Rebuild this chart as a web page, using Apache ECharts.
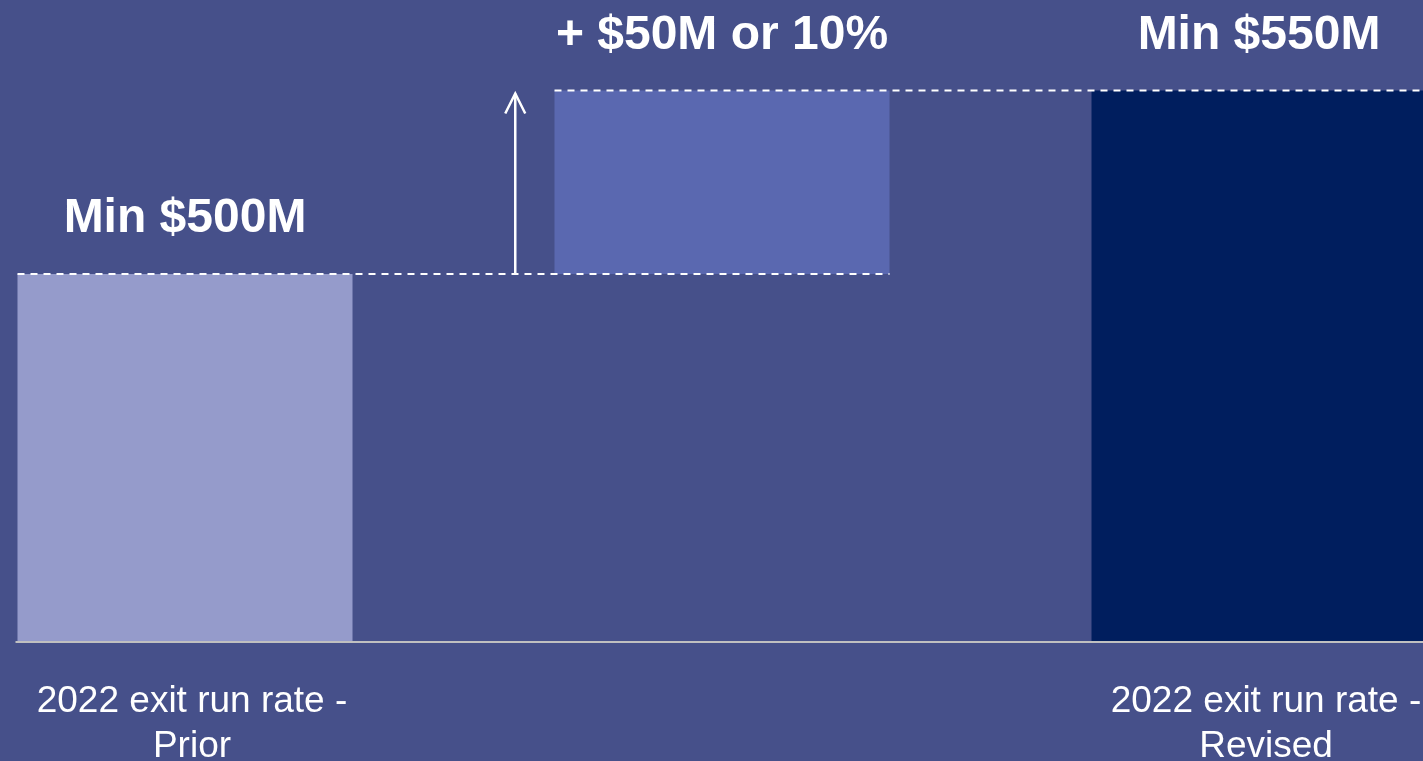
<!DOCTYPE html>
<html>
<head>
<meta charset="utf-8">
<script src="https://cdn.jsdelivr.net/npm/echarts@6/dist/echarts.min.js"></script>
<style>
  html, body { margin: 0; padding: 0; background: #46508A; }
  #chart { width: 1423px; height: 761px; }
</style>
</head>
<body>
<div id="chart"></div>
<script>
// ---- data ----
const categories = ['2022 exit run rate -\nPrior', '', '2022 exit run rate -\nRevised'];
const baseValues = [0, 500, 0];          // invisible stack base (waterfall offset)
const barValues = [500, 50, 550];        // visible bar segments
const valueLabels = ['Min $500M', '+ $50M or 10%', 'Min $550M'];
const yMin = 400;
const yMax = 560;

// ---- style ----
const barColors = ['#959BCB', '#5A68B0', '#001E5E'];
const FONT = 'Arial, "Liberation Sans", sans-serif';

const chart = echarts.init(document.getElementById('chart'), null, { renderer: 'canvas' });

const option = {
  backgroundColor: '#46508A',
  animation: false,
  grid: { left: -83.5, right: -104.5, top: 53.8, bottom: 120, containLabel: false, outerBoundsMode: 'none' },
  xAxis: {
    type: 'category',
    data: categories,
    axisLine: { show: false },
    axisTick: { show: false },
    axisLabel: {
      color: '#FFFFFF',
      fontFamily: FONT,
      fontSize: 37,
      lineHeight: 45,
      margin: 38,
      padding: [0, 0, 0, 14],
      interval: 0
    }
  },
  yAxis: {
    type: 'value',
    min: yMin,
    max: yMax,
    show: false,
    splitLine: { show: false }
  },
  series: [
    {
      type: 'bar',
      stack: 'wf',
      data: baseValues,
      barWidth: 335,
      itemStyle: { color: 'transparent' },
      silent: true
    },
    {
      type: 'bar',
      stack: 'wf',
      barWidth: 335,
      data: barValues.map((v, i) => ({ value: v, itemStyle: { color: barColors[i] } })),
      label: {
        show: true,
        position: 'top',
        distance: 31,
        color: '#FFFFFF',
        fontFamily: FONT,
        fontWeight: 'bold',
        fontSize: 48,
        formatter: p => valueLabels[p.dataIndex]
      }
    }
  ]
};
chart.setOption(option);

// ---- annotations built from the chart's own scales ----
function px(catIdx, val) { return chart.convertToPixel({ gridIndex: 0 }, [catIdx, val]); }
const halfW = 335 / 2;
const p0 = px(0, barValues[0]);
const p1 = px(1, baseValues[1] + barValues[1]);
const pBase = px(0, yMin);
const y500 = px(0, baseValues[1])[1];
const y550 = p1[1];
const arrowX = p0[0] + (p1[0] - p0[0]) * 0.615;

const dash = { stroke: '#FFFFFF', lineWidth: 2, lineDash: [7, 6] };
chart.setOption({
  graphic: [
    { type: 'line', shape: { x1: p0[0] - halfW - 2, y1: pBase[1] + 1, x2: 1423, y2: pBase[1] + 1 },
      style: { stroke: '#C0C0C0', lineWidth: 2 }, z: 10 },
    { type: 'line', shape: { x1: p0[0] - halfW, y1: y500, x2: p1[0] + halfW, y2: y500 }, style: dash, z: 10 },
    { type: 'line', shape: { x1: p1[0] - halfW, y1: y550, x2: 1423, y2: y550 }, style: dash, z: 10 },
    { type: 'line', shape: { x1: arrowX, y1: y500, x2: arrowX, y2: y550 + 3 },
      style: { stroke: '#FFFFFF', lineWidth: 2.5 }, z: 11 },
    { type: 'polyline', shape: { points: [[arrowX - 10, y550 + 23], [arrowX, y550 + 3], [arrowX + 10, y550 + 23]] },
      style: { stroke: '#FFFFFF', lineWidth: 2.5, fill: null }, z: 11 }
  ]
});
</script>
</body>
</html>
